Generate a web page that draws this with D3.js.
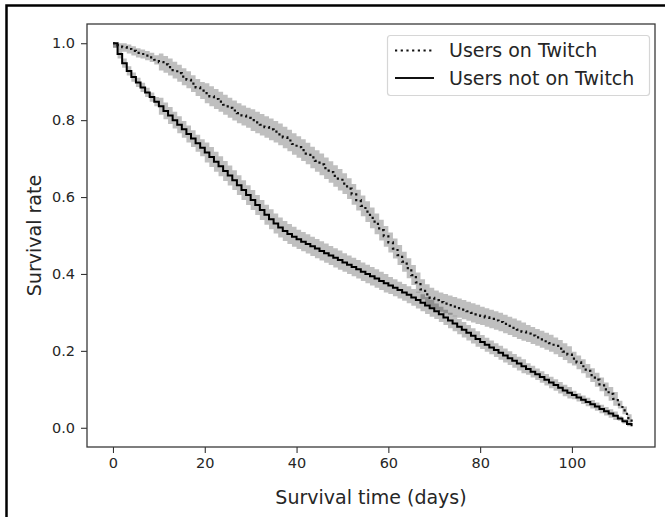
<!DOCTYPE html>
<html>
<head>
<meta charset="utf-8">
<script src="https://cdn.jsdelivr.net/npm/d3@7"></script>
<style>
  html, body { margin: 0; padding: 0; background: #fff; }
  svg { display: block; font-family: "DejaVu Sans", sans-serif; }
</style>
</head>
<body>
<svg id="chart" width="665" height="517"></svg>
<script>
// Kaplan–Meier survival estimates, one value per day (step after each day)
const days = d3.range(0, 114);

const survOnTwitch = [
  1.0, 0.995, 0.99, 0.985, 0.98, 0.975, 0.972, 0.968, 0.963, 0.957,
  0.951, 0.945, 0.938, 0.93, 0.922, 0.913, 0.905, 0.895, 0.885, 0.877,
  0.87, 0.862, 0.855, 0.848, 0.84, 0.832, 0.825, 0.818, 0.812, 0.806,
  0.80, 0.794, 0.788, 0.782, 0.776, 0.77, 0.763, 0.755, 0.747, 0.738,
  0.73, 0.722, 0.713, 0.703, 0.694, 0.685, 0.675, 0.665, 0.655, 0.645,
  0.635, 0.622, 0.607, 0.592, 0.577, 0.562, 0.546, 0.53, 0.514, 0.498,
  0.482, 0.466, 0.449, 0.432, 0.415, 0.397, 0.378, 0.36, 0.347, 0.338,
  0.332, 0.327, 0.323, 0.319, 0.315, 0.311, 0.307, 0.303, 0.299, 0.295,
  0.291, 0.287, 0.283, 0.279, 0.275, 0.27, 0.265, 0.26, 0.255, 0.25,
  0.245, 0.24, 0.235, 0.23, 0.225, 0.22, 0.213, 0.206, 0.198, 0.19,
  0.18, 0.17, 0.16, 0.148, 0.137, 0.125, 0.113, 0.1, 0.088, 0.075,
  0.06, 0.045, 0.025, 0.01
];

const survNotOnTwitch = [
  1.0, 0.972, 0.948, 0.928, 0.912, 0.898, 0.885, 0.872, 0.86, 0.848,
  0.836, 0.824, 0.812, 0.8, 0.788, 0.776, 0.764, 0.752, 0.74, 0.728,
  0.716, 0.704, 0.692, 0.68, 0.668, 0.656, 0.644, 0.631, 0.618, 0.605,
  0.592, 0.579, 0.566, 0.554, 0.542, 0.531, 0.521, 0.512, 0.504, 0.497,
  0.49, 0.484, 0.478, 0.472, 0.466, 0.46, 0.454, 0.448, 0.442, 0.436,
  0.43, 0.424, 0.418, 0.412, 0.406, 0.4, 0.394, 0.388, 0.382, 0.376,
  0.37, 0.364, 0.358, 0.352, 0.346, 0.339, 0.332, 0.325, 0.318, 0.311,
  0.303, 0.295, 0.287, 0.279, 0.271, 0.263, 0.255, 0.247, 0.239, 0.231,
  0.223, 0.216, 0.209, 0.202, 0.195, 0.188, 0.181, 0.174, 0.167, 0.16,
  0.153, 0.146, 0.139, 0.132, 0.125, 0.118, 0.111, 0.104, 0.097, 0.091,
  0.085, 0.079, 0.073, 0.067, 0.061, 0.055, 0.049, 0.043, 0.037, 0.031,
  0.024, 0.017, 0.01, 0.004
];

// Half-width of the 95% confidence band, per 10-day block
const ciOnTwitch    = [0.012, 0.022, 0.026, 0.028, 0.028, 0.027, 0.026, 0.025, 0.024, 0.022, 0.018, 0.01];
const ciNotOnTwitch = [0.012, 0.022, 0.026, 0.026, 0.025, 0.024, 0.022, 0.02, 0.018, 0.015, 0.011, 0.006];

const xTicks = [0, 20, 40, 60, 80, 100];
const yTicks = [0.0, 0.2, 0.4, 0.6, 0.8, 1.0];

const seriesNames = ["Users on Twitch", "Users not on Twitch"];

// ---------------------------------------------------------------
const svg = d3.select("#chart");
const W = 665, H = 517;
const plot = { left: 87, right: 655, top: 24, bottom: 447 };

// Outer figure frame
svg.append("rect")
  .attr("x", 6.5).attr("y", 5.5)
  .attr("width", W + 10).attr("height", H + 10)
  .attr("fill", "none").attr("stroke", "#000").attr("stroke-width", 2.5);

const x = d3.scaleLinear().domain([-5.66, 118.1]).range([plot.left, plot.right]);
const y = d3.scaleLinear().domain([-0.05, 1.05]).range([plot.bottom, plot.top]);

svg.append("defs").append("clipPath").attr("id", "plotclip")
  .append("rect")
  .attr("x", plot.left).attr("y", plot.top)
  .attr("width", plot.right - plot.left).attr("height", plot.bottom - plot.top);

const makeRows = (surv, ci) => days.map((d, i) => ({
  t: d,
  s: surv[i],
  lo: Math.max(0, surv[i] - ci[Math.floor(d / 10)]),
  hi: Math.min(1, surv[i] + ci[Math.floor(d / 10)])
}));

const rowsOn = makeRows(survOnTwitch, ciOnTwitch);
const rowsOff = makeRows(survNotOnTwitch, ciNotOnTwitch);

const band = d3.area()
  .curve(d3.curveStepAfter)
  .x(d => x(d.t))
  .y0(d => y(d.lo))
  .y1(d => y(d.hi));

const line = d3.line()
  .curve(d3.curveStepAfter)
  .x(d => x(d.t))
  .y(d => y(d.s));

const g = svg.append("g").attr("clip-path", "url(#plotclip)");

[rowsOn, rowsOff].forEach(rows => {
  g.append("path")
    .attr("d", band(rows))
    .attr("fill", "#000")
    .attr("fill-opacity", 0.25)
    .attr("stroke", "none");
});

g.append("path")
  .attr("d", line(rowsOff))
  .attr("fill", "none")
  .attr("stroke", "#000")
  .attr("stroke-width", 2);

g.append("path")
  .attr("d", line(rowsOn))
  .attr("fill", "none")
  .attr("stroke", "#111")
  .attr("stroke-width", 2.2)
  .attr("stroke-dasharray", "2.2,3.5");

// Axes
const xAxis = d3.axisBottom(x).tickValues(xTicks).tickFormat(d3.format("d"))
  .tickSize(6).tickPadding(5);
const yAxis = d3.axisLeft(y).tickValues(yTicks).tickFormat(d3.format(".1f"))
  .tickSize(6).tickPadding(6);

const gx = svg.append("g").attr("transform", `translate(0,${plot.bottom})`).call(xAxis);
const gy = svg.append("g").attr("transform", `translate(${plot.left},0)`).call(yAxis);

[gx, gy].forEach(a => {
  a.select(".domain").remove();
  a.selectAll(".tick line").attr("stroke", "#333").attr("stroke-width", 1.1);
  a.selectAll(".tick text")
    .attr("fill", "#262626")
    .style("font-size", "14.5px")
    .style("font-family", "DejaVu Sans, sans-serif");
});

// Spines
svg.append("rect")
  .attr("x", plot.left).attr("y", plot.top)
  .attr("width", plot.right - plot.left).attr("height", plot.bottom - plot.top)
  .attr("fill", "none").attr("stroke", "#3a3a3a").attr("stroke-width", 1.3);

// Axis titles
svg.append("text")
  .attr("x", (plot.left + plot.right) / 2).attr("y", 504)
  .attr("text-anchor", "middle")
  .attr("fill", "#262626")
  .style("font-size", "19px")
  .text("Survival time (days)");

svg.append("text")
  .attr("transform", `translate(41,${(plot.top + plot.bottom) / 2}) rotate(-90)`)
  .attr("text-anchor", "middle")
  .attr("fill", "#262626")
  .style("font-size", "19px")
  .text("Survival rate");

// Legend
const lg = svg.append("g");
lg.append("rect")
  .attr("x", 387.5).attr("y", 35.5).attr("width", 262).attr("height", 60)
  .attr("rx", 3).attr("ry", 3)
  .attr("fill", "#fff").attr("fill-opacity", 0.8)
  .attr("stroke", "#d6d6d6").attr("stroke-width", 1.2);

const legendRows = [
  { name: seriesNames[0], dash: "2.2,3.5", y: 50.5 },
  { name: seriesNames[1], dash: null, y: 78 }
];
legendRows.forEach(r => {
  const ln = lg.append("line")
    .attr("x1", 395).attr("x2", 434)
    .attr("y1", r.y).attr("y2", r.y)
    .attr("stroke", "#111").attr("stroke-width", r.dash ? 2.2 : 2);
  if (r.dash) ln.attr("stroke-dasharray", r.dash);
  lg.append("text")
    .attr("x", 449).attr("y", r.y + 6.8)
    .attr("fill", "#262626")
    .style("font-size", "19px")
    .text(r.name);
});
</script>
</body>
</html>
